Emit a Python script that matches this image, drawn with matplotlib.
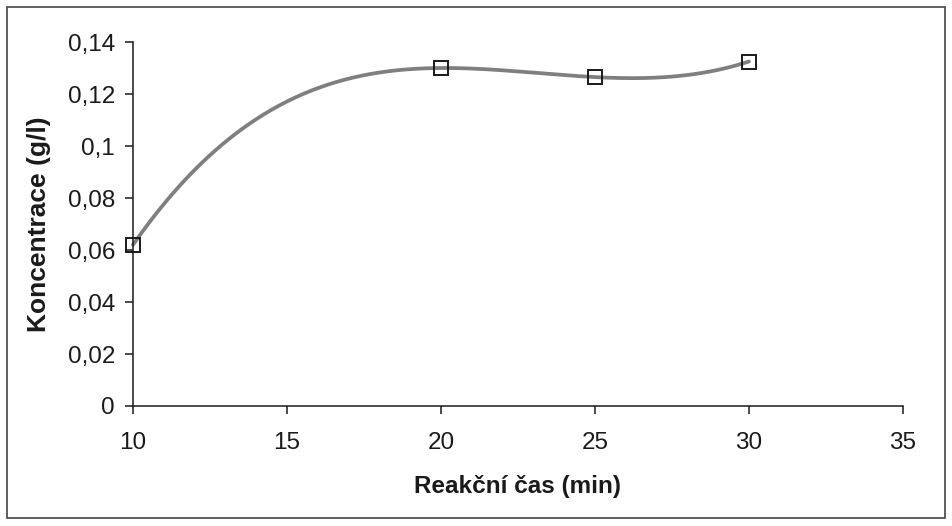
import matplotlib
matplotlib.use("Agg")
import matplotlib.pyplot as plt
import numpy as np
from matplotlib.ticker import FuncFormatter, MultipleLocator
from matplotlib.patches import Rectangle

# data
cas = np.array([10, 20, 25, 30])                     # Reakční čas (min)
konc = np.array([0.062, 0.130, 0.1265, 0.1325])     # Koncentrace (g/l)

plt.rcParams['font.family'] = ['Liberation Sans', 'DejaVu Sans']

fig = plt.figure(figsize=(9.52, 5.26), dpi=100)
ax = fig.add_axes([133 / 952, 1 - 406 / 526, 770 / 952, 364 / 526])

# smooth curve through the points (cubic through all four)
koef = np.polyfit(cas, konc, 3)
xs = np.linspace(cas.min(), cas.max(), 300)
ax.plot(xs, np.polyval(koef, xs), color='#7f7f7f', linewidth=2.7,
        solid_capstyle='round', zorder=2, clip_on=False)
ax.plot(cas, konc, linestyle='none', marker='s', markersize=10,
        markerfacecolor='none', markeredgecolor='#1a1a1a',
        markeredgewidth=1.4, zorder=3, clip_on=False)

ax.set_xlim(10, 35)
ax.set_ylim(0, 0.14)
ax.xaxis.set_major_locator(MultipleLocator(5))
ax.yaxis.set_major_locator(MultipleLocator(0.02))
ax.yaxis.set_major_formatter(FuncFormatter(lambda v, p: ('%g' % round(v, 3)).replace('.', ',')))

for s in ['top', 'right']:
    ax.spines[s].set_visible(False)
for s in ['left', 'bottom']:
    ax.spines[s].set_linewidth(1.1)
    ax.spines[s].set_color('#1a1a1a')
ax.tick_params(direction='out', length=6, width=1.1, color='#1a1a1a',
               labelsize=17.5, labelcolor='#1a1a1a')
ax.tick_params(axis='y', pad=7)
ax.tick_params(axis='x', pad=13)

ax.set_xlabel("Reakční čas (min)", fontsize=17.5, fontweight='bold',
              color='#1a1a1a', labelpad=15)
ax.set_ylabel("Koncentrace (g/l)", fontsize=19, fontweight='bold',
              color='#1a1a1a', labelpad=12)
ax.patch.set_alpha(0)

# outer frame
fig.patches.append(Rectangle((7 / 952, 8 / 526), 938 / 952, 511 / 526,
                             transform=fig.transFigure, fill=False,
                             edgecolor='#444444', linewidth=1.2))

fig.savefig("out.png", dpi=100)
